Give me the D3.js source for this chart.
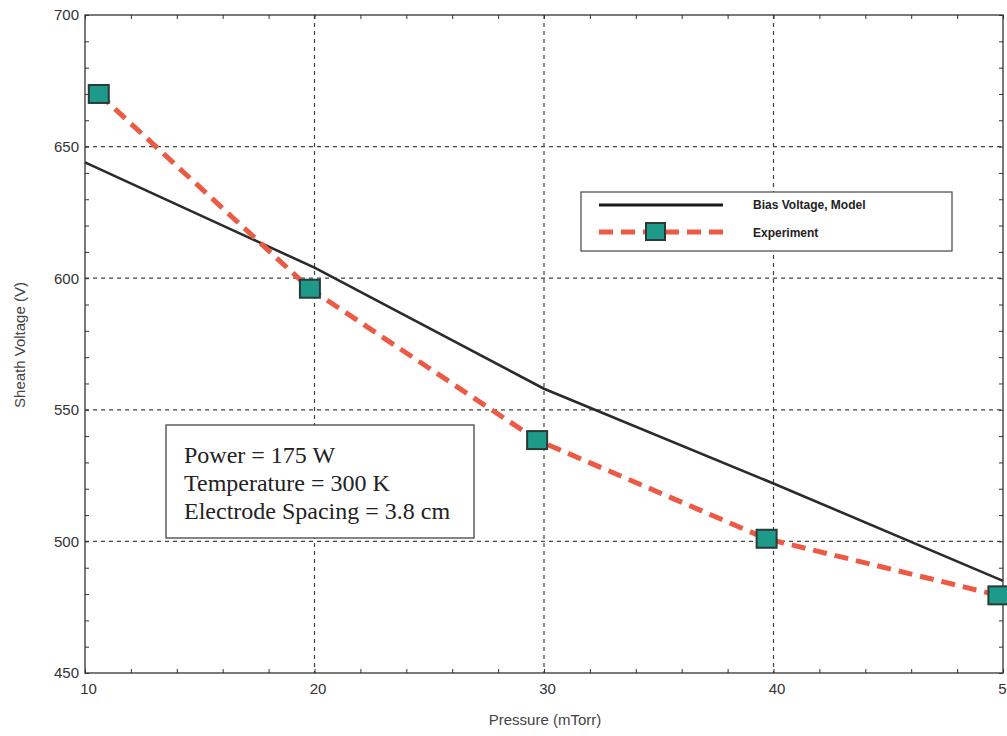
<!DOCTYPE html>
<html>
<head>
<meta charset="utf-8">
<script src="https://cdn.jsdelivr.net/npm/d3@7"></script>
<style>
  body { margin: 0; background: #fff; }
  svg { display: block; }
</style>
</head>
<body>
<script>
// data
var modelPressure = [10, 20, 30, 40, 50];
var modelVoltage = [644, 604, 558, 522, 485];
var expPressure = [10.6, 19.8, 29.7, 39.7, 49.8];
var expVoltage = [670, 596, 538.5, 501, 479.5];
var xTicks = [10, 20, 30, 40, 50];
var yTicks = [450, 500, 550, 600, 650, 700];
var legendLabels = ['Bias Voltage, Model', 'Experiment'];
var noteLines = ['Power = 175 W', 'Temperature = 300 K', 'Electrode Spacing = 3.8 cm'];

var W = 1007, H = 736;
var m = {left: 85, top: 15, right: 4, bottom: 63};

var svg = d3.select('body').append('svg')
  .attr('width', W).attr('height', H);

var x = d3.scaleLinear().domain([10, 50]).range([m.left, W - m.right]);
var y = d3.scaleLinear().domain([450, 700]).range([H - m.bottom, m.top]);

// grid
svg.selectAll('.vgrid')
  .data(xTicks.slice(1, -1))
  .enter().append('line')
  .attr('x1', d => x(d)).attr('x2', d => x(d))
  .attr('y1', y(700)).attr('y2', y(450))
  .attr('stroke', '#444').attr('stroke-width', 1.2)
  .attr('stroke-dasharray', '4,4');

svg.selectAll('.hgrid')
  .data(yTicks.slice(1, -1))
  .enter().append('line')
  .attr('x1', x(10)).attr('x2', x(50))
  .attr('y1', d => y(d)).attr('y2', d => y(d))
  .attr('stroke', '#444').attr('stroke-width', 1.2)
  .attr('stroke-dasharray', '4,4');

// frame
svg.append('rect')
  .attr('x', x(10)).attr('y', y(700))
  .attr('width', x(50) - x(10)).attr('height', y(450) - y(700))
  .attr('fill', 'none').attr('stroke', '#333').attr('stroke-width', 1.3);

// inward ticks with d3 axes
var xMinor = d3.range(10, 50.1, 2);
var yMinor = d3.range(450, 700.1, 10);
svg.append('g').attr('transform', 'translate(0,' + y(450) + ')')
  .call(d3.axisTop(x).tickValues(xMinor).tickSize(4).tickFormat(''))
  .call(g => g.select('.domain').remove());
svg.append('g').attr('transform', 'translate(0,' + y(700) + ')')
  .call(d3.axisBottom(x).tickValues(xMinor).tickSize(4).tickFormat(''))
  .call(g => g.select('.domain').remove());
svg.append('g').attr('transform', 'translate(' + x(10) + ',0)')
  .call(d3.axisRight(y).tickValues(yMinor).tickSize(4).tickFormat(''))
  .call(g => g.select('.domain').remove());
svg.append('g').attr('transform', 'translate(' + x(50) + ',0)')
  .call(d3.axisLeft(y).tickValues(yMinor).tickSize(4).tickFormat(''))
  .call(g => g.select('.domain').remove());
svg.selectAll('.tick line').attr('stroke', '#333');

// tick labels
var xAx = svg.append('g').attr('transform', 'translate(0,' + y(450) + ')')
  .call(d3.axisBottom(x).tickValues(xTicks).tickSize(0).tickPadding(10).tickFormat(d3.format('d')));
xAx.select('.domain').remove();
xAx.selectAll('text').attr('font-family', 'Arial, Liberation Sans, sans-serif')
  .attr('font-size', 15).attr('fill', '#333').attr('dx', 3);

var yAx = svg.append('g').attr('transform', 'translate(' + x(10) + ',0)')
  .call(d3.axisLeft(y).tickValues(yTicks).tickSize(0).tickPadding(6).tickFormat(d3.format('d')));
yAx.select('.domain').remove();
yAx.selectAll('text').attr('font-family', 'Arial, Liberation Sans, sans-serif')
  .attr('font-size', 15).attr('fill', '#333');

// axis titles
svg.append('text')
  .attr('x', 545).attr('y', 725)
  .attr('text-anchor', 'middle')
  .attr('font-family', 'Arial, Liberation Sans, sans-serif')
  .attr('font-size', 15).attr('fill', '#444')
  .text('Pressure (mTorr)');

svg.append('text')
  .attr('transform', 'translate(25,' + 345 + ') rotate(-90)')
  .attr('text-anchor', 'middle')
  .attr('font-family', 'Arial, Liberation Sans, sans-serif')
  .attr('font-size', 15).attr('fill', '#444')
  .text('Sheath Voltage (V)');

// model line
var model = modelPressure.map((p, i) => [p, modelVoltage[i]]);
var exp = expPressure.map((p, i) => [p, expVoltage[i]]);
var line = d3.line().x(d => x(d[0])).y(d => y(d[1]));

svg.append('path')
  .attr('d', line(model))
  .attr('fill', 'none').attr('stroke', '#2b2b2b').attr('stroke-width', 2.6);

// experiment
svg.append('path')
  .attr('d', line(exp))
  .attr('fill', 'none').attr('stroke', '#ec5a45').attr('stroke-width', 5)
  .attr('stroke-dasharray', '14,8');

var ms = 20;
svg.selectAll('.marker')
  .data(exp)
  .enter().append('rect')
  .attr('x', d => x(d[0]) - ms / 2).attr('y', d => y(d[1]) - ms / 2 + 1)
  .attr('width', ms).attr('height', ms - 2)
  .attr('fill', '#1e9a8a').attr('stroke', '#2a3a38').attr('stroke-width', 2);

// legend
var lg = svg.append('g').attr('transform', 'translate(581,192)');
lg.append('rect').attr('width', 371).attr('height', 59)
  .attr('fill', '#fff').attr('stroke', '#444').attr('stroke-width', 1.2);
lg.append('line').attr('x1', 18).attr('x2', 142).attr('y1', 13).attr('y2', 13)
  .attr('stroke', '#1a1a1a').attr('stroke-width', 3);
lg.append('line').attr('x1', 18).attr('x2', 142).attr('y1', 40).attr('y2', 40)
  .attr('stroke', '#ec5a45').attr('stroke-width', 5).attr('stroke-dasharray', '14,8');
lg.append('rect').attr('x', 65).attr('y', 31).attr('width', 19).attr('height', 17)
  .attr('fill', '#1e9a8a').attr('stroke', '#2a3a38').attr('stroke-width', 2);
lg.selectAll('.lt')
  .data(legendLabels)
  .enter().append('text')
  .attr('x', 172).attr('y', (d, i) => 17 + i * 28)
  .attr('font-family', 'Arial, Liberation Sans, sans-serif')
  .attr('font-size', 12).attr('font-weight', 'bold').attr('fill', '#222')
  .text(d => d);

// note box
var nb = svg.append('g').attr('transform', 'translate(166,425)');
nb.append('rect').attr('width', 308).attr('height', 113)
  .attr('fill', '#fff').attr('stroke', '#444').attr('stroke-width', 1.3);
nb.selectAll('.nt')
  .data(noteLines)
  .enter().append('text')
  .attr('x', 18).attr('y', (d, i) => 38 + i * 28)
  .attr('font-family', 'Times New Roman, Liberation Serif, serif')
  .attr('font-size', 24).attr('fill', '#222')
  .text(d => d);
</script>
</body>
</html>
